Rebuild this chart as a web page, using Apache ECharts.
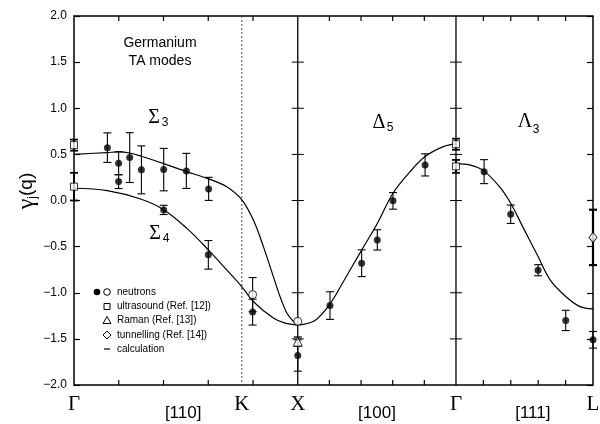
<!DOCTYPE html>
<html><head><meta charset="utf-8">
<script src="https://cdn.jsdelivr.net/npm/echarts@6/dist/echarts.min.js"></script>
<style>html,body{margin:0;padding:0;background:#fff}#c{width:600px;height:424px}</style>
</head><body><div id="c"></div>
<script>
// High-symmetry points (units of 2π/a along the path Γ-K-X-Γ-L)
const K_PT = 1.0607, X_PT = 1.4142, G2_PT = 2.4142, L_PT = 3.2802;
const pointNames = ['Γ', 'K', 'X', 'Γ', 'L'];
const pointPos = [0, K_PT, X_PT, G2_PT, L_PT];
const dirNames = ['[110]', '[100]', '[111]'];
const dirPos = [0.69, 1.915, 2.90];
const xTickPos = [0.2828, 0.5657, 0.8485, 1.1314, 1.6142, 1.8142, 2.0142, 2.2142, 2.5874, 2.7606, 2.9338, 3.1070];
const yTickVals = [-1.5, -1.0, -0.5, 0.0, 0.5, 1.0, 1.5];
const solidBoundaries = [X_PT, G2_PT];
const dottedBoundaries = [K_PT];

// Calculated curves
const sigma3X = [0, 0.210, 0.283, 0.352, 0.425, 0.567, 0.711, 0.850, 0.965, 1.060, 1.133, 1.197, 1.260, 1.302, 1.345, 1.386, 1.4142];
const sigma3Y = [0.50, 0.52, 0.527, 0.515, 0.48, 0.40, 0.313, 0.235, 0.15, 0.01, -0.21, -0.50, -0.825, -1.04, -1.22, -1.31, -1.35];
const sigma4X = [0, 0.210, 0.425, 0.567, 0.712, 0.849, 0.965, 1.060, 1.133, 1.260, 1.334, 1.4142];
const sigma4Y = [0.133, 0.107, 0.014, -0.10, -0.30, -0.535, -0.752, -0.933, -1.095, -1.275, -1.33, -1.35];
const delta5X = [1.4142, 1.523, 1.618, 1.702, 1.819, 1.917, 2.016, 2.124, 2.219, 2.334, 2.4142];
const delta5Y = [-1.35, -1.30, -1.12, -0.88, -0.535, -0.25, 0.079, 0.313, 0.476, 0.584, 0.613];
const lambda3X = [2.4142, 2.5, 2.588, 2.689, 2.760, 2.830, 2.933, 3.009, 3.108, 3.198, 3.2802];
const lambda3Y = [0.40, 0.386, 0.324, 0.15, -0.03, -0.264, -0.608, -0.86, -1.04, -1.15, -1.174];

// Measurements: x, value, error
const neutronX = [0.211, 0.282, 0.282, 0.352, 0.426, 0.567, 0.710, 0.851, 0.567, 0.849, 1.129, 1.4142, 1.618, 1.818, 1.917, 2.016, 2.219, 2.592, 2.760, 2.933, 3.108, 3.2802];
const neutronY = [0.573, 0.404, 0.205, 0.465, 0.332, 0.335, 0.321, 0.126, -0.102, -0.589, -1.21, -1.68, -1.139, -0.68, -0.427, -0.004, 0.386, 0.313, -0.149, -0.756, -1.30, -1.51];
const neutronErr = [0.16, 0.125, 0.075, 0.27, 0.26, 0.23, 0.19, 0.125, 0.05, 0.155, 0.14, 0.17, 0.15, 0.145, 0.11, 0.09, 0.12, 0.13, 0.10, 0.06, 0.11, 0.09];
const neutronOpenX = [1.129, 1.4142];
const neutronOpenY = [-1.02, -1.31];
const neutronOpenErr = [0.185, 0];
const ultraX = [0, 0, 2.4142, 2.4142];
const ultraY = [0.60, 0.15, 0.61, 0.37];
const ultraErr = [0.06, 0.15, 0.06, 0.07];
const ramanX = [1.4142];
const ramanY = [-1.53];
const ramanErr = [0.05];
const tunnelX = [3.2802];
const tunnelY = [-0.40];
const tunnelErr = [0.30];

const zip = (xs, ys) => xs.map((x, i) => [x, ys[i]]);
const errData = (xs, ys, es) => xs.map((x, i) => [x, ys[i] - es[i], ys[i] + es[i]]).filter((d, i) => es[i] > 0);

function errRender(capW, lw) {
  return function (params, api) {
    const x = api.value(0), lo = api.value(1), hi = api.value(2);
    const p1 = api.coord([x, lo]), p2 = api.coord([x, hi]);
    const st = { stroke: '#000', lineWidth: lw };
    return { type: 'group', children: [
      { type: 'line', shape: { x1: p1[0], y1: p1[1], x2: p2[0], y2: p2[1] }, style: st },
      { type: 'line', shape: { x1: p1[0] - capW, y1: p1[1], x2: p1[0] + capW, y2: p1[1] }, style: st },
      { type: 'line', shape: { x1: p2[0] - capW, y1: p2[1], x2: p2[0] + capW, y2: p2[1] }, style: st }
    ]};
  };
}

function boundaryRender(dotted) {
  return function (params, api) {
    const x = api.value(0);
    const top = api.coord([x, 2]), bot = api.coord([x, -2]);
    const children = [{ type: 'line', shape: { x1: top[0], y1: top[1], x2: bot[0], y2: bot[1] },
      style: dotted ? { stroke: '#444', lineWidth: 1, lineDash: [2, 2] } : { stroke: '#000', lineWidth: 1.3 } }];
    if (!dotted) {
      yTickVals.forEach(v => {
        const p = api.coord([x, v]);
        children.push({ type: 'line', shape: { x1: p[0] - 6, y1: p[1], x2: p[0] + 6, y2: p[1] }, style: { stroke: '#000', lineWidth: 1 } });
      });
    }
    return { type: 'group', children };
  };
}

// x ticks at bottom (pointing up) and top (pointing down)
const xTickRender = dir => (params, api) => {
  const b = api.coord([api.value(0), api.value(1)]);
  return { type: 'line', shape: { x1: b[0], y1: b[1], x2: b[0], y2: b[1] + dir * 5 }, style: { stroke: '#000', lineWidth: 1.2 } };
};

const chart = echarts.init(document.getElementById('c'));
const lineStyle = { color: '#000', width: 1.2 };
const curve = (xs, ys) => ({ type: 'line', data: zip(xs, ys), smooth: 0.35, showSymbol: false, symbol: 'none', lineStyle, z: 3, silent: true });
const sansFont = '"Liberation Sans", Arial, sans-serif';
const serifFont = '"Liberation Serif", "Times New Roman", serif';

const fmtName = (v, names, pos) => { for (let i = 0; i < pos.length; i++) if (Math.abs(pos[i] - v) < 1e-3) return names[i]; return ''; };

const legendY = [292, 306.5, 320.5, 335, 349];
const legendTexts = ['neutrons', 'ultrasound (Ref. [12])', 'Raman (Ref. [13])', 'tunnelling (Ref. [14])', 'calculation'];

const graphics = [
  { type: 'text', x: 160, y: 43, style: { text: 'Germanium', font: '14px ' + sansFont, fill: '#000', align: 'center', verticalAlign: 'middle' } },
  { type: 'text', x: 160, y: 61, style: { text: 'TA modes', font: '14px ' + sansFont, fill: '#000', align: 'center', verticalAlign: 'middle' } },
  { type: 'text', x: 154, y: 118, style: { text: 'Σ', font: '20px ' + serifFont, fill: '#000', align: 'center', verticalAlign: 'middle' } },
  { type: 'text', x: 165, y: 123, style: { text: '3', font: '12px ' + sansFont, fill: '#000', align: 'center', verticalAlign: 'middle' } },
  { type: 'text', x: 155, y: 234, style: { text: 'Σ', font: '20px ' + serifFont, fill: '#000', align: 'center', verticalAlign: 'middle' } },
  { type: 'text', x: 166, y: 239, style: { text: '4', font: '12px ' + sansFont, fill: '#000', align: 'center', verticalAlign: 'middle' } },
  { type: 'text', x: 379, y: 123, style: { text: 'Δ', font: '20px ' + serifFont, fill: '#000', align: 'center', verticalAlign: 'middle' } },
  { type: 'text', x: 390, y: 128, style: { text: '5', font: '12px ' + sansFont, fill: '#000', align: 'center', verticalAlign: 'middle' } },
  { type: 'text', x: 525, y: 122, style: { text: 'Λ', font: '20px ' + serifFont, fill: '#000', align: 'center', verticalAlign: 'middle' } },
  { type: 'text', x: 536, y: 130, style: { text: '3', font: '12px ' + sansFont, fill: '#000', align: 'center', verticalAlign: 'middle' } },
  { type: 'text', x: 27, y: 191, rotation: Math.PI / 2,
    style: { text: '{g|γ}{j|j}{q|(q)}', align: 'center', verticalAlign: 'middle', fill: '#000',
      rich: { g: { fontFamily: serifFont, fontSize: 24, lineHeight: 24, verticalAlign: 'middle' },
              j: { fontFamily: sansFont, fontSize: 12, lineHeight: 12, verticalAlign: 'bottom' },
              q: { fontFamily: sansFont, fontSize: 19, lineHeight: 24, verticalAlign: 'middle' } } } },
  // legend
  { type: 'circle', shape: { cx: 97, cy: legendY[0], r: 3.3 }, style: { fill: '#000' } },
  { type: 'circle', shape: { cx: 107, cy: legendY[0], r: 3.3 }, style: { fill: '#fff', stroke: '#000', lineWidth: 1 } },
  { type: 'rect', shape: { x: 104, y: legendY[1] - 3, width: 6, height: 6 }, style: { fill: '#fff', stroke: '#000', lineWidth: 1 } },
  { type: 'polygon', shape: { points: [[107, legendY[2] - 4], [111, legendY[2] + 3], [103, legendY[2] + 3]] }, style: { fill: '#fff', stroke: '#000', lineWidth: 1 } },
  { type: 'polygon', shape: { points: [[107, legendY[3] - 4], [111, legendY[3]], [107, legendY[3] + 4], [103, legendY[3]]] }, style: { fill: '#fff', stroke: '#000', lineWidth: 1 } },
  { type: 'line', shape: { x1: 104, y1: legendY[4], x2: 110, y2: legendY[4] }, style: { stroke: '#000', lineWidth: 1.2 } }
];
legendTexts.forEach((t, i) => graphics.push({ type: 'text', x: 117, y: legendY[i], style: { text: t, font: '10px ' + sansFont, fill: '#000', align: 'left', verticalAlign: 'middle' } }));

const yTickStyle = { show: true, inside: true, length: 6, lineStyle: { color: '#000', width: 1.2 } };

const option = {
  animation: false,
  grid: { left: 74, right: 7, top: 16, bottom: 39, show: true, borderColor: '#000', borderWidth: 1.5, outerBoundsMode: 'none' },
  xAxis: [
    { type: 'value', position: 'bottom', min: 0, max: L_PT, splitLine: { show: false }, axisLine: { show: false, onZero: false },
      axisTick: { show: false },
      axisLabel: { show: true, customValues: pointPos, margin: 9, formatter: v => fmtName(v, pointNames, pointPos),
        fontFamily: serifFont, fontSize: 21, color: '#000' } },
    { type: 'value', position: 'bottom', min: 0, max: L_PT, splitLine: { show: false }, axisLine: { show: false, onZero: false },
      axisTick: { show: false },
      axisLabel: { show: true, customValues: dirPos, margin: 20, formatter: v => fmtName(v, dirNames, dirPos),
        fontFamily: sansFont, fontSize: 17, color: '#000' } }
  ],
  yAxis: [
    { type: 'value', position: 'left', min: -2, max: 2, interval: 0.5, splitLine: { show: false }, axisLine: { show: false, onZero: false },
      axisTick: yTickStyle,
      axisLabel: { margin: 7, fontFamily: sansFont, fontSize: 12, color: '#000',
        formatter: v => (v < 0 ? '\u2212' : '') + Math.abs(v).toFixed(1) } },
    { type: 'value', position: 'right', min: -2, max: 2, interval: 0.5, splitLine: { show: false }, axisLine: { show: false, onZero: false },
      axisTick: yTickStyle, axisLabel: { show: false } }
  ],
  graphic: graphics,
  series: [
    { type: 'custom', data: xTickPos.map(x => [x, -2]), renderItem: xTickRender(-1), clip: false },
    { type: 'custom', data: xTickPos.map(x => [x, 2]), renderItem: xTickRender(1), clip: false },
    { type: 'custom', data: solidBoundaries.map(x => [x]), renderItem: boundaryRender(false), clip: false, z: 2, silent: true },
    { type: 'custom', data: dottedBoundaries.map(x => [x]), renderItem: boundaryRender(true), clip: false, z: 2, silent: true },
    curve(sigma3X, sigma3Y), curve(sigma4X, sigma4Y), curve(delta5X, delta5Y), curve(lambda3X, lambda3Y),
    { type: 'custom', data: errData(neutronX, neutronY, neutronErr), renderItem: errRender(4, 1.1), clip: false, z: 4, silent: true },
    { type: 'custom', data: errData(neutronOpenX, neutronOpenY, neutronOpenErr), renderItem: errRender(4, 1.1), clip: false, z: 4, silent: true },
    { type: 'custom', data: errData(ultraX, ultraY, ultraErr), renderItem: errRender(4, 1.8), clip: false, z: 4, silent: true },
    { type: 'custom', data: errData(ramanX, ramanY, ramanErr), renderItem: errRender(4, 1.3), clip: false, z: 4, silent: true },
    { type: 'custom', data: errData(tunnelX, tunnelY, tunnelErr), renderItem: errRender(4, 2.2), clip: false, z: 4, silent: true },
    { type: 'scatter', data: zip(neutronX, neutronY), symbol: 'circle', symbolSize: 7, itemStyle: { color: '#000' }, z: 5, clip: false, silent: true },
    { type: 'scatter', data: zip(neutronOpenX, neutronOpenY), symbol: 'circle', symbolSize: 8, itemStyle: { color: '#fff', borderColor: '#000', borderWidth: 1 }, z: 5, clip: false, silent: true },
    { type: 'scatter', data: zip(ultraX, ultraY), symbol: 'rect', symbolSize: 7, itemStyle: { color: '#fff', borderColor: '#000', borderWidth: 1 }, z: 5, clip: false, silent: true },
    { type: 'scatter', data: zip(ramanX, ramanY), symbol: 'triangle', symbolSize: 9, itemStyle: { color: '#fff', borderColor: '#000', borderWidth: 1 }, z: 5, clip: false, silent: true },
    { type: 'scatter', data: zip(tunnelX, tunnelY), symbol: 'diamond', symbolSize: [8, 10], itemStyle: { color: '#fff', borderColor: '#000', borderWidth: 1 }, z: 5, clip: false, silent: true }
  ]
};
chart.setOption(option);
</script>
</body></html>
